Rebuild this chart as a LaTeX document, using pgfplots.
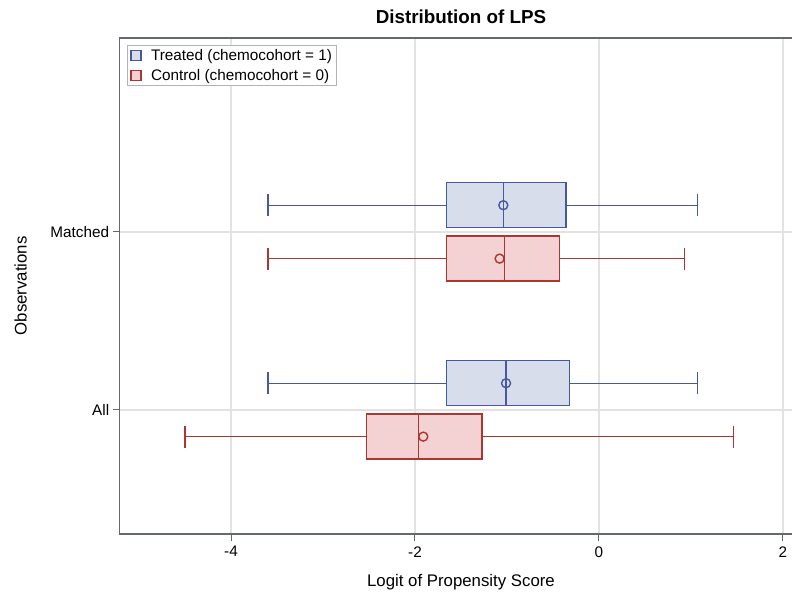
\documentclass[border=0pt]{standalone}
\usepackage{fontspec}
\setmainfont{Liberation Sans}
\usepackage{pgfplots}
\pgfplotsset{compat=1.18}
\usepgfplotslibrary{statistics}

\definecolor{trtline}{RGB}{72,88,160}
\definecolor{trtfill}{RGB}{216,221,235}
\definecolor{ctlline}{RGB}{172,54,50}
\definecolor{ctlfill}{RGB}{244,209,210}
\definecolor{framec}{RGB}{100,104,112}
\definecolor{gridc}{RGB}{226,226,226}

\newcommand{\ticksize}{\fontsize{15.3bp}{18bp}\selectfont}

\begin{document}
\begin{tikzpicture}
\begin{axis}[
    x=92bp, y=178bp,
    xmin=-5.21, xmax=2.21,
    ymin=0.3034, ymax=3.0899,
    axis line style={framec, line width=1.3bp},
    tick style={framec, line width=1bp},
    tick align=outside,
    major tick length=7bp,
    xtick pos=bottom, ytick pos=left,
    xtick={-4,-2,0,2}, xticklabels={-4,-2,0,2},
    ytick={1,2}, yticklabels={All,Matched},
    ticklabel style={font=\ticksize},
    xticklabel style={yshift=-2bp},
    grid=major,
    major grid style={gridc, line width=1.2bp},
    title={Distribution of LPS},
    title style={font=\fontsize{18.8bp}{22bp}\selectfont\bfseries,
        at={(axis description cs:0.5,1)}, anchor=base, yshift=8bp},
    xlabel={Logit of Propensity Score},
    xlabel style={font=\fontsize{16.8bp}{20bp}\selectfont,
        at={(axis description cs:0.5,0)}, anchor=base, yshift=-53bp},
    ylabel={Observations},
    ylabel style={font=\fontsize{16.8bp}{20bp}\selectfont,
        at={(axis description cs:-0.1362,0.5)}, anchor=base},
    boxplot/draw direction=x,
    legend style={at={(axis description cs:0.0103,0.9859)}, anchor=north west,
        draw=black!30, line width=1bp, font=\ticksize,
        inner xsep=3bp, inner ysep=2.5bp, row sep=4bp,
        nodes={inner sep=1.5bp},
        /tikz/every odd column/.append style={column sep=8bp}},
    legend cell align=left,
]
% Matched
\addplot[forget plot, trtline, fill=trtfill, line width=1.4bp,
    boxplot prepared={draw position=2.15, lower whisker=-3.60,
        lower quartile=-1.66, median=-1.04, upper quartile=-0.36,
        upper whisker=1.07, box extend=0.253, whisker extend=0.124}]
    coordinates {};
\addplot[forget plot, ctlline, fill=ctlfill, line width=1.4bp,
    boxplot prepared={draw position=1.85, lower whisker=-3.60,
        lower quartile=-1.66, median=-1.03, upper quartile=-0.43,
        upper whisker=0.93, box extend=0.253, whisker extend=0.124}]
    coordinates {};
% All
\addplot[forget plot, trtline, fill=trtfill, line width=1.4bp,
    boxplot prepared={draw position=1.15, lower whisker=-3.60,
        lower quartile=-1.66, median=-1.01, upper quartile=-0.32,
        upper whisker=1.07, box extend=0.253, whisker extend=0.124}]
    coordinates {};
\addplot[forget plot, ctlline, fill=ctlfill, line width=1.4bp,
    boxplot prepared={draw position=0.85, lower whisker=-4.50,
        lower quartile=-2.53, median=-1.96, upper quartile=-1.27,
        upper whisker=1.46, box extend=0.253, whisker extend=0.124}]
    coordinates {};
% means
\addplot[forget plot, only marks, mark=o, mark size=4.5bp, trtline, line width=1.4bp]
    coordinates {(-1.04,2.15) (-1.01,1.15)};
\addplot[forget plot, only marks, mark=o, mark size=4.5bp, ctlline, line width=1.4bp]
    coordinates {(-1.08,1.85) (-1.91,0.85)};

\addlegendimage{legend image code/.code={\draw[trtline, fill=trtfill, line width=1.3bp] (0bp,-5bp) rectangle (10bp,5bp);}}
\addlegendentry{Treated (chemocohort = 1)}
\addlegendimage{legend image code/.code={\draw[ctlline, fill=ctlfill, line width=1.3bp] (0bp,-5bp) rectangle (10bp,5bp);}}
\addlegendentry{Control (chemocohort = 0)}

\coordinate (bbsw) at (axis cs:-6.511,-0.0225);
\coordinate (bbne) at (axis cs:2.098,3.303);
\end{axis}
\pgfresetboundingbox
\path (bbsw) rectangle (bbne);
\end{tikzpicture}
\end{document}
